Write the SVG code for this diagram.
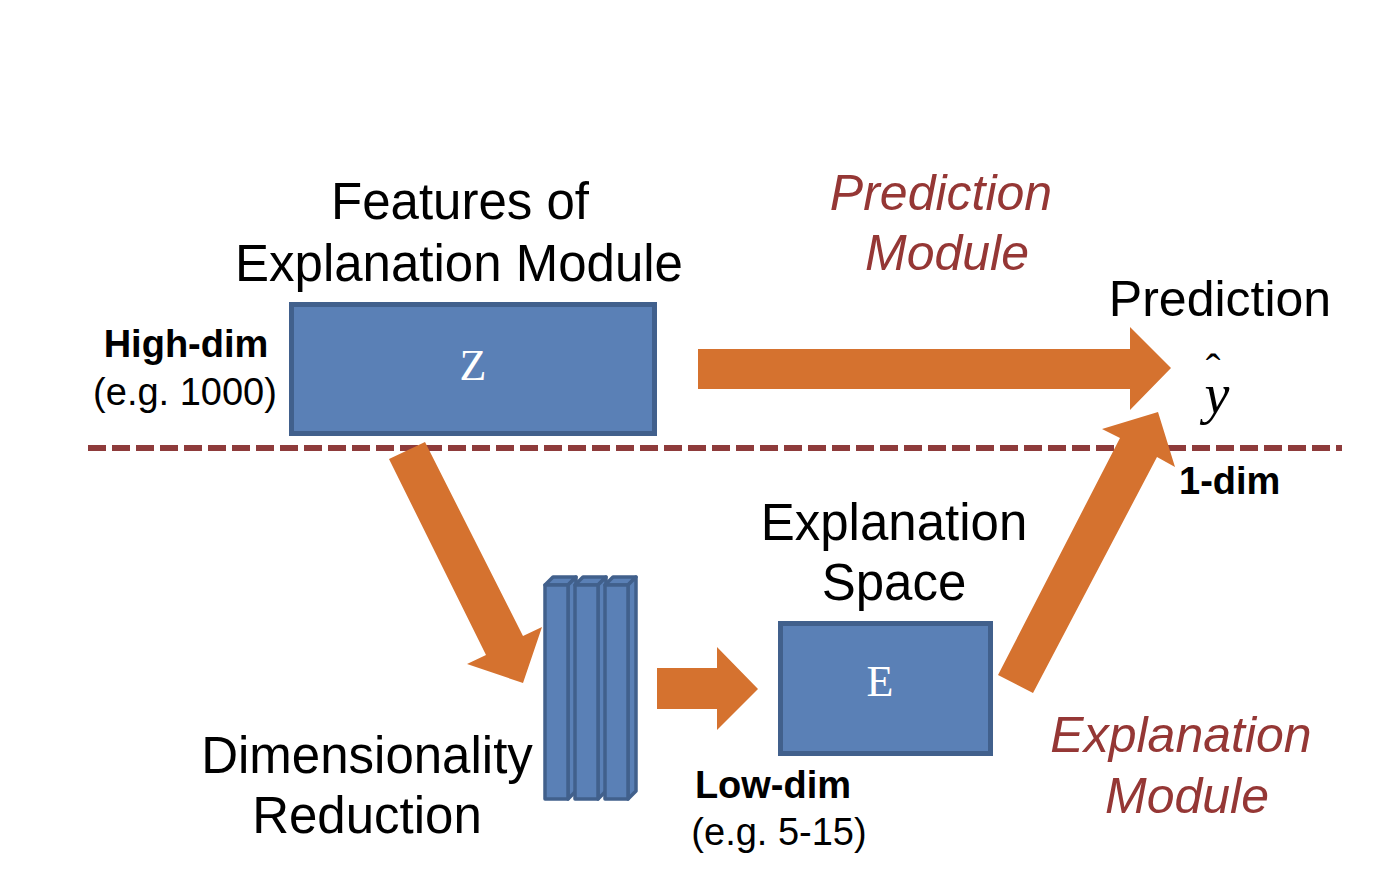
<svg xmlns="http://www.w3.org/2000/svg" width="1384" height="880" viewBox="0 0 1384 880">
<style>
.t{font-family:"Liberation Sans",Arial,sans-serif;fill:#000}
.big{font-size:51px}
.b{font-size:38px;font-weight:bold}
.n{font-size:38px}
.red{font-family:"Liberation Sans",Arial,sans-serif;font-size:50px;font-style:italic;fill:#953735}
.box{fill:#5a80b6;stroke:#41608c;stroke-width:5}
.bar{fill:#5a80b6;stroke:#41608c;stroke-width:3.5;stroke-linejoin:round}
.arr{fill:#d5722f}
.lbl{font-family:"Liberation Serif","Times New Roman",serif;font-size:44px;fill:#fff}
.serif{font-family:"Liberation Serif","Times New Roman",serif;fill:#000}
</style>
<rect width="1384" height="880" fill="#fff"/>
<g id="divider">
<line x1="88" y1="448" x2="1342" y2="448" stroke="#8e3b3b" stroke-width="6" stroke-dasharray="18 6"/>
</g>
<g id="connectors">
<polygon class="arr" points="698,349 1130,349 1130,327 1171,368 1130,410 1130,389 698,389"/>
<polygon class="arr" points="425,442 523,636 542,627 523,683 467,664 486,655 389,459"/>
<polygon class="arr" points="657,668 717,668 717,647 758,689 717,730 717,709 657,709"/>
<polygon class="arr" points="998,675 1120,438 1102,429 1158,412 1175,467 1157,457 1033,693"/>
</g>
<g id="node-z">
<rect class="box" x="291.5" y="304.5" width="363" height="129"/>
<text class="lbl" x="473" y="380" text-anchor="middle">Z</text>
</g>
<g id="node-e">
<rect class="box" x="780.5" y="623.5" width="210" height="130"/>
<text class="lbl" x="880" y="696" text-anchor="middle">E</text>
</g>
<g id="node-dimred">
<g>
<polygon class="bar" points="545,585 553,577 576,577 568,585"/>
<polygon class="bar" points="568,585 576,577 576,791 568,799"/>
<rect class="bar" x="545" y="585" width="23" height="214"/>
</g>
<g>
<polygon class="bar" points="575,585 583,577 606,577 598,585"/>
<polygon class="bar" points="598,585 606,577 606,791 598,799"/>
<rect class="bar" x="575" y="585" width="23" height="214"/>
</g>
<g>
<polygon class="bar" points="605,585 613,577 636,577 628,585"/>
<polygon class="bar" points="628,585 636,577 636,791 628,799"/>
<rect class="bar" x="605" y="585" width="23" height="214"/>
</g>
</g>
<g id="label-features">
<text class="t big" x="460" y="219" text-anchor="middle">Features of</text>
<text class="t big" x="459" y="281" text-anchor="middle">Explanation Module</text>
</g>
<g id="label-prediction-module">
<text class="red" x="941" y="210" text-anchor="middle">Prediction</text>
<text class="red" x="947" y="270" text-anchor="middle">Module</text>
</g>
<g id="node-prediction">
<text class="t" x="1220" y="316" text-anchor="middle" font-size="50">Prediction</text>
<text class="serif" text-anchor="middle"><tspan x="1213" y="384" font-size="44">ˆ</tspan><tspan x="1217" y="413" font-size="56" font-style="italic">y</tspan></text>
<text class="t b" x="1179" y="494">1-dim</text>
</g>
<g id="label-highdim">
<text class="t b" x="186" y="357" text-anchor="middle">High-dim</text>
<text class="t n" x="185" y="405" text-anchor="middle">(e.g. 1000)</text>
</g>
<g id="label-explanation-space">
<text class="t big" x="894" y="540" text-anchor="middle">Explanation</text>
<text class="t big" x="894" y="600" text-anchor="middle">Space</text>
</g>
<g id="label-dimred">
<text class="t big" x="367" y="773" text-anchor="middle">Dimensionality</text>
<text class="t big" x="367" y="833" text-anchor="middle">Reduction</text>
</g>
<g id="label-lowdim">
<text class="t b" x="773" y="798" text-anchor="middle">Low-dim</text>
<text class="t n" x="779" y="845" text-anchor="middle">(e.g. 5-15)</text>
</g>
<g id="label-explanation-module">
<text class="red" x="1181" y="752" text-anchor="middle">Explanation</text>
<text class="red" x="1187" y="813" text-anchor="middle">Module</text>
</g>
</svg>
